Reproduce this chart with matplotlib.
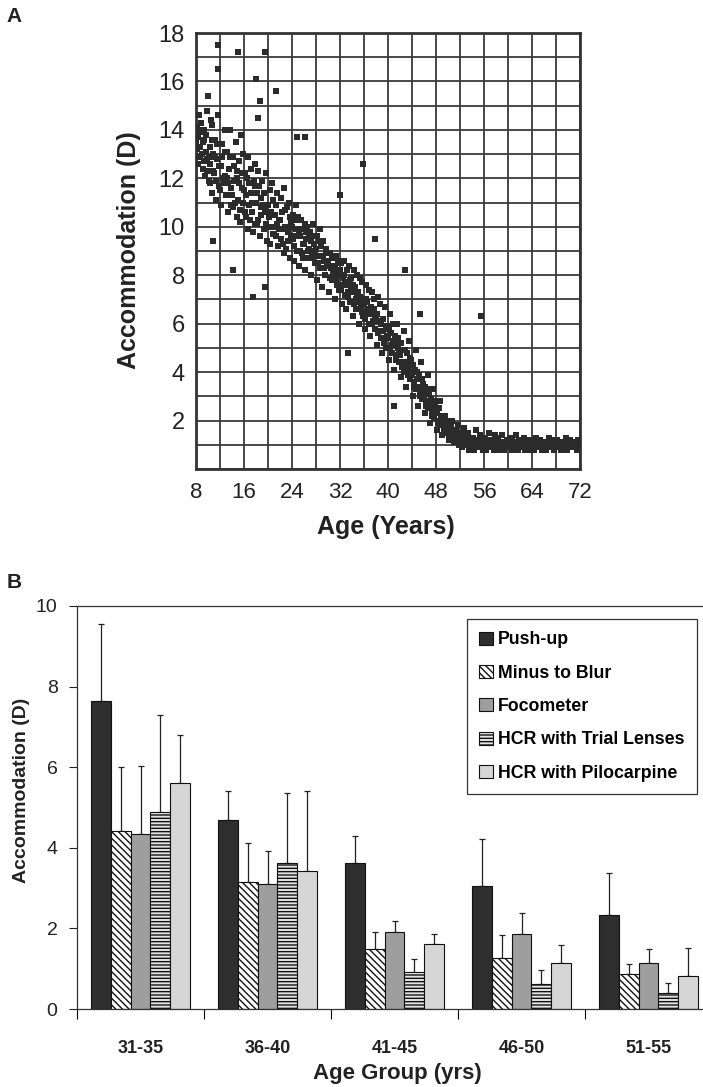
import numpy as np
import matplotlib
matplotlib.use('Agg')
import matplotlib.pyplot as plt

plt.rcParams['font.family'] = ['Liberation Sans', 'DejaVu Sans']
plt.rcParams['hatch.linewidth'] = 1.0
plt.rcParams['hatch.color'] = 'black'

scatter_age = [
    8.1, 8.2, 8.3, 8.4, 8.6, 8.8, 8.5, 8.7,
    9.1, 9.2, 9.4, 9.5, 9.7, 9.8, 9.9, 9.3,
    10.1, 10.3, 10.4, 10.6, 10.7, 10.9, 10.5, 10.0, 10.8,
    11.0, 11.2, 11.3, 11.6, 11.5, 11.7, 11.8, 11.6,
    12.1, 12.2, 12.4, 12.6, 12.8, 12.9,
    13.0, 13.2, 13.3, 13.5, 13.7, 13.9,
    14.1, 14.2, 14.4, 15.0, 14.6, 14.8, 14.9, 14.1,
    15.0, 15.2, 15.4, 15.5, 15.7, 15.9,
    16.1, 16.2, 16.4, 16.6, 16.7, 16.9,
    17.0, 17.2, 17.3, 17.5, 18.0, 17.8, 17.9, 17.5,
    18.1, 18.2, 18.4, 18.6, 18.8, 18.9, 18.6, 18.3,
    19.0, 19.5, 19.3, 19.5, 19.6, 19.8, 19.5,
    20.1, 20.3, 20.4, 20.6, 20.8, 20.9,
    21.0, 21.4, 21.3, 21.5, 21.6, 21.8,
    22.1, 22.2, 22.4, 22.6, 22.7, 22.9,
    23.0, 23.2, 23.4, 23.5, 23.7, 23.9,
    24.1, 24.2, 24.4, 24.6, 24.7, 24.9, 24.8,
    25.0, 25.2, 25.3, 25.5, 25.7, 25.8,
    26.1, 26.2, 26.4, 26.5, 26.7, 26.9, 26.2,
    27.0, 27.2, 27.3, 27.5, 27.7, 27.8,
    28.1, 28.2, 28.4, 28.6, 28.7, 28.9,
    29.0, 29.2, 29.3, 29.5, 29.7, 29.8,
    30.1, 30.2, 30.4, 30.6, 30.7, 30.9,
    31.0, 31.2, 31.4, 31.5, 31.7, 31.9,
    32.1, 32.2, 32.4, 32.6, 32.7, 32.9, 32.0,
    33.0, 33.2, 33.3, 33.5, 33.7, 33.8, 33.4,
    34.1, 34.2, 34.4, 34.6, 34.7, 34.9,
    35.0, 35.2, 35.4, 35.5, 35.7, 35.9, 35.9,
    36.1, 36.3, 36.4, 36.6, 36.8, 36.9,
    37.0, 37.2, 37.3, 37.5, 37.7, 37.8, 37.9,
    38.1, 38.2, 38.4, 38.6, 38.7, 38.9,
    39.0, 39.2, 39.4, 39.5, 39.7, 39.9,
    40.1, 40.2, 40.4, 40.6, 40.7, 40.9,
    41.0, 41.2, 41.3, 41.5, 41.7, 41.8, 41.0,
    42.1, 42.2, 42.4, 42.6, 42.7, 42.9, 42.9,
    43.0, 43.2, 43.4, 43.5, 43.7, 43.9,
    44.1, 44.2, 44.4, 44.6, 44.7, 44.9,
    45.0, 45.2, 45.3, 45.5, 45.7, 45.8, 45.4,
    46.1, 46.2, 46.4, 46.6, 46.7, 46.9,
    47.0, 47.2, 47.4, 47.5, 47.7, 47.8,
    48.1, 48.2, 48.4, 48.6, 48.7, 48.9,
    49.0, 49.2, 49.4, 49.5, 49.7, 49.9,
    50.1, 50.3, 50.4, 50.6, 50.8, 50.9,
    51.0, 51.3, 51.5, 51.7, 51.9,
    52.1, 52.4, 52.6, 52.8,
    53.0, 53.3, 53.5, 53.8,
    54.1, 54.3, 54.6, 54.8,
    55.0, 55.3, 55.6, 55.8, 55.5,
    56.1, 56.4, 56.6, 56.9,
    57.2, 57.4, 57.7, 57.9,
    58.1, 58.3, 58.6, 58.8,
    59.0, 59.3, 59.6, 59.8,
    60.1, 60.4, 60.6, 60.9,
    61.2, 61.4, 61.7, 61.9,
    62.0, 62.3, 62.6, 62.8,
    63.1, 63.4, 63.6, 63.9,
    64.2, 64.4, 64.7, 64.9,
    65.1, 65.3, 65.6, 65.8,
    66.0, 66.3, 66.6, 66.9,
    67.1, 67.4, 67.7, 67.9,
    68.2, 68.4, 68.7, 68.9,
    69.0, 69.3, 69.6, 69.8,
    70.1, 70.4, 70.6, 70.9,
    71.1, 71.4, 71.7,
]
scatter_acc = [
    13.2, 14.1, 12.6, 13.7, 12.9, 14.3, 14.6, 13.9,
    12.4, 13.5, 14.0, 12.1, 13.1, 14.8, 12.8, 13.6,
    11.9, 13.3, 12.6, 14.2, 11.4, 13.0, 14.4, 15.4, 9.4,
    12.2, 13.6, 11.1, 17.5, 12.8, 14.6, 11.7, 16.5,
    12.5, 10.9, 13.4, 11.8, 14.0, 12.1,
    11.3, 13.1, 10.6, 12.4, 14.0, 11.6,
    12.9, 10.8, 11.9, 17.2, 13.5, 10.4, 12.3, 8.2,
    11.1, 12.7, 10.2, 13.8, 11.6, 13.0,
    10.6, 12.2, 11.3, 9.9, 12.9, 11.8,
    10.3, 12.4, 11.0, 9.8, 16.1, 11.7, 12.6, 7.1,
    10.1, 11.4, 12.3, 9.6, 10.8, 11.2, 15.2, 14.5,
    11.9, 17.2, 9.9, 10.7, 12.2, 9.4, 7.5,
    10.4, 11.5, 9.3, 11.8, 10.0, 11.1,
    9.7, 15.6, 10.9, 11.4, 9.2, 10.3,
    11.2, 9.5, 10.6, 8.9, 11.6, 10.0,
    9.1, 10.8, 9.8, 11.0, 8.7, 10.2,
    9.5, 10.5, 8.6, 9.9, 10.9, 9.0, 13.7,
    10.4, 8.4, 9.6, 10.3, 8.9, 9.3,
    10.1, 8.2, 9.5, 10.0, 8.7, 9.1, 13.7,
    9.8, 8.0, 8.9, 10.1, 9.3, 8.5,
    9.6, 7.8, 8.8, 9.9, 8.3, 9.2,
    7.5, 9.4, 8.6, 8.0, 9.1, 8.9,
    7.3, 8.4, 8.9, 7.8, 8.7, 8.2,
    8.2, 7.0, 8.8, 7.6, 8.6, 8.0,
    7.4, 8.5, 6.8, 8.0, 8.6, 7.7, 11.3,
    6.6, 8.2, 7.3, 8.4, 6.9, 7.9, 4.8,
    6.3, 7.6, 8.2, 7.0, 6.6, 8.0,
    7.3, 6.0, 7.9, 6.7, 7.7, 6.3, 12.6,
    5.8, 7.0, 7.6, 6.4, 7.4, 6.0,
    5.5, 6.7, 7.3, 6.1, 7.0, 5.8, 9.5,
    5.1, 6.4, 7.1, 5.7, 6.8, 6.0,
    4.8, 6.2, 5.4, 6.7, 5.0, 5.9,
    4.5, 5.8, 6.4, 5.1, 4.8, 6.0,
    4.1, 5.5, 4.7, 6.0, 5.0, 4.4, 2.6,
    3.8, 5.2, 4.4, 5.7, 4.0, 4.9, 8.2,
    3.4, 4.8, 4.1, 5.3, 3.7, 4.5,
    3.0, 4.3, 3.6, 4.9, 3.3, 4.0,
    2.6, 3.9, 3.2, 4.4, 2.9, 3.5, 6.4,
    2.3, 3.4, 2.8, 3.9, 2.5, 3.1,
    1.9, 2.9, 2.4, 3.3, 2.1, 2.6,
    1.6, 2.4, 2.0, 2.8, 1.8, 2.2,
    1.4, 2.1, 1.7, 2.2, 1.5, 1.9,
    1.2, 1.8, 1.5, 2.0, 1.3, 1.6,
    1.1, 1.6, 1.3, 1.8, 1.0,
    1.4, 0.9, 1.7, 1.2,
    1.0, 1.5, 0.8, 1.3,
    1.2, 0.8, 1.6, 1.0,
    0.9, 1.4, 1.1, 0.8, 6.3,
    1.3, 0.8, 1.0, 1.5,
    0.9, 1.2, 0.8, 1.4,
    1.0, 1.3, 0.8, 1.1,
    1.4, 0.8, 1.0, 1.2,
    0.9, 1.3, 0.8, 1.1,
    1.0, 1.4, 0.8, 1.2,
    0.9, 1.1, 1.3, 0.8,
    1.0, 0.8, 1.2, 0.9,
    1.1, 0.8, 1.3, 1.0,
    0.9, 1.2, 0.8, 1.0,
    1.1, 0.8, 1.0, 1.3,
    0.9, 1.1, 0.8, 1.0,
    1.2, 0.9, 1.0, 0.8,
    1.1, 0.9, 1.3, 0.8,
    1.0, 1.2, 0.9, 1.1,
    0.9, 1.0, 1.2,
]
# second pass over the dense core of the cloud
core_age = [
    8.05, 8.45, 8.65, 8.95, 9.05, 9.35, 9.6, 9.85,
    10.15, 10.35, 10.65, 10.85, 11.1, 11.35, 11.55, 11.9,
    12.0, 12.3, 12.55, 12.75, 13.1, 13.4, 13.6, 13.8,
    14.0, 14.3, 14.55, 14.75, 15.1, 15.3, 15.6, 15.8,
    16.0, 16.3, 16.5, 16.8, 17.1, 17.4, 17.6, 17.85,
    18.0, 18.3, 18.5, 18.75, 19.1, 19.4, 19.65, 19.9,
    20.0, 20.25, 20.5, 20.75, 21.1, 21.35, 21.55, 21.9,
    22.0, 22.3, 22.5, 22.8, 23.1, 23.3, 23.6, 23.8,
    24.0, 24.3, 24.5, 24.8, 25.1, 25.4, 25.6, 25.9,
    26.0, 26.3, 26.6, 26.8, 27.1, 27.4, 27.6, 27.9,
    28.0, 28.3, 28.5, 28.8, 29.1, 29.4, 29.6, 29.9,
    30.0, 30.3, 30.5, 30.8, 31.1, 31.3, 31.6, 31.8,
    32.0, 32.3, 32.5, 32.8, 33.1, 33.4, 33.6, 33.9,
    34.0, 34.3, 34.5, 34.8, 35.1, 35.3, 35.6, 35.8,
    36.0, 36.2, 36.5, 36.7, 37.1, 37.4, 37.6, 37.9,
    38.0, 38.3, 38.5, 38.8, 39.1, 39.3, 39.6, 39.8,
    40.0, 40.3, 40.5, 40.8, 41.1, 41.4, 41.6, 41.9,
    42.0, 42.3, 42.5, 42.8, 43.1, 43.3, 43.6, 43.8,
    44.0, 44.3, 44.5, 44.8, 45.1, 45.4, 45.6, 45.9,
    46.0, 46.3, 46.5, 46.8, 47.1, 47.3, 47.6, 47.9,
    48.0, 48.3, 48.5, 48.8, 49.1, 49.3, 49.6, 49.8,
    50.0, 50.2, 50.5, 50.7, 51.1, 51.4, 51.6, 51.8,
    52.0, 52.3, 52.5, 52.7, 52.9, 53.1, 53.4, 53.6, 53.9,
    54.0, 54.2, 54.5, 54.9, 55.1, 55.4, 55.7, 55.9,
    56.2, 56.8, 57.1, 57.6, 58.2, 58.7, 59.2, 59.5,
    60.2, 60.7, 61.1, 61.6, 62.2, 62.7, 63.2, 63.7,
    64.1, 64.6, 65.2, 65.7, 66.2, 66.7, 67.2, 67.6,
    68.1, 68.6, 69.2, 69.7, 70.2, 70.7, 71.2, 71.5, 71.8,
]
core_acc = [
    13.5, 12.9, 13.3, 14.0, 13.0, 12.7, 13.8, 12.3,
    12.9, 11.8, 13.6, 12.3, 12.9, 11.9, 13.4, 12.5,
    11.5, 12.9, 12.0, 13.1, 12.0, 11.8, 12.9, 10.9,
    11.3, 12.5, 11.0, 12.0, 11.8, 10.7, 12.2, 11.0,
    11.5, 10.4, 12.0, 10.9, 11.4, 10.6, 11.9, 10.1,
    11.0, 10.3, 11.7, 10.5, 10.9, 11.4, 10.1, 10.6,
    10.9, 10.0, 10.6, 9.7, 10.5, 9.6, 10.1, 9.9,
    10.3, 9.9, 9.3, 10.7, 10.0, 9.4, 10.4, 9.6,
    10.0, 9.2, 10.3, 9.6, 9.8, 9.0, 9.9, 8.7,
    9.3, 9.8, 9.0, 9.6, 9.4, 8.7, 9.6, 9.0,
    9.1, 8.5, 9.4, 8.8, 8.8, 8.3, 9.0, 8.5,
    8.6, 7.9, 8.3, 8.0, 8.4, 7.8, 8.1, 7.4,
    8.2, 7.6, 7.9, 7.2, 7.6, 7.1, 7.8, 7.4,
    7.3, 6.8, 7.5, 7.2, 6.9, 7.1, 6.5, 7.0,
    6.8, 6.2, 6.9, 6.6, 6.4, 6.0, 6.6, 6.2,
    6.2, 5.6, 6.1, 5.4, 5.7, 5.2, 5.8, 5.5,
    5.4, 5.0, 5.6, 5.3, 5.2, 4.5, 5.4, 4.8,
    4.7, 4.2, 4.9, 4.4, 4.3, 3.9, 4.6, 4.0,
    3.9, 3.4, 4.1, 3.7, 3.4, 3.0, 3.7, 3.2,
    3.0, 2.6, 3.3, 2.8, 2.6, 2.2, 2.8, 2.3,
    2.3, 1.9, 2.5, 2.0, 1.9, 1.6, 2.0, 1.7,
    1.7, 1.4, 1.8, 1.5, 1.4, 1.2, 1.5, 1.3,
    1.2, 1.5, 1.1, 1.3, 1.0, 1.2, 1.0, 1.3, 1.1,
    1.0, 1.3, 1.1, 1.2, 1.2, 1.0, 1.3, 1.0,
    1.1, 1.2, 1.1, 1.0, 1.2, 0.9, 1.1, 0.9,
    1.0, 1.2, 1.1, 0.9, 1.0, 1.2, 1.1, 1.0,
    0.9, 1.1, 1.1, 0.9, 1.0, 1.1, 1.2, 1.0,
    1.0, 1.1, 1.0, 1.1, 0.9, 1.0, 1.1, 0.8, 1.0,
]

# ---- panel B: mean accommodation by age group and method, with +1 SD ----
age_groups = ['31-35', '36-40', '41-45', '46-50', '51-55']
methods = ['Push-up', 'Minus to Blur', 'Focometer',
           'HCR with Trial Lenses', 'HCR with Pilocarpine']
push_up = [7.64, 4.69, 3.63, 3.06, 2.33]
minus_blur = [4.42, 3.14, 1.48, 1.26, 0.86]
focometer = [4.35, 3.10, 1.92, 1.85, 1.15]
hcr_trial = [4.90, 3.62, 0.93, 0.63, 0.40]
hcr_pilo = [5.60, 3.43, 1.61, 1.13, 0.82]
push_up_sd = [1.91, 0.71, 0.67, 1.16, 1.04]
minus_blur_sd = [1.58, 0.98, 0.44, 0.58, 0.25]
focometer_sd = [1.67, 0.82, 0.26, 0.54, 0.34]
hcr_trial_sd = [2.39, 1.75, 0.32, 0.34, 0.24]
hcr_pilo_sd = [1.19, 1.99, 0.24, 0.46, 0.69]

W, H = 703, 1087
fig = plt.figure(figsize=(W / 100, H / 100), dpi=100)

# panel A
axA = fig.add_axes([196 / W, 1 - 469 / H, 384 / W, 436 / H])
axA.set_axisbelow(True)
axA.scatter(scatter_age + core_age, scatter_acc + core_acc, s=15, marker='s',
            color='#2b2b2b', linewidths=0, zorder=3)
axA.set_xlim(8, 72)
axA.set_ylim(0, 18)
axA.set_xticks(range(8, 73, 8))
axA.set_xticks(range(8, 73, 4), minor=True)
axA.set_yticks(range(2, 19, 2))
axA.set_yticks(range(0, 19), minor=True)
axA.grid(which='both', color='#3a3a3a', lw=1.3)
axA.tick_params(which='both', length=0, labelsize=16, colors='#222222')
axA.tick_params(axis='x', pad=9)
axA.tick_params(axis='y', pad=8, labelsize=17)
for s in axA.spines.values():
    s.set_linewidth(2)
    s.set_color('#333333')

fig.text(129 / W, 1 - 250 / H, 'Accommodation (D)', rotation=90, ha='center',
         va='center', fontsize=18, fontweight='bold', color='#222222')
fig.text(386 / W, 1 - 527 / H, 'Age (Years)', ha='center', va='center',
         fontsize=18, fontweight='bold', color='#222222')
fig.text(14 / W, 1 - 16 / H, 'A', ha='center', va='center', fontsize=15,
         fontweight='bold', color='#222222')

# panel B
axB = fig.add_axes([77 / W, 1 - 1009 / H, 635 / W, 403 / H])
bw = 0.155
x = np.arange(len(age_groups)) + 0.5
series = [
    (push_up, push_up_sd, dict(color='#2e2e2e')),
    (minus_blur, minus_blur_sd, dict(color='white', hatch='\\\\\\\\\\')),
    (focometer, focometer_sd, dict(color='#9e9e9e')),
    (hcr_trial, hcr_trial_sd, dict(color='#e4e4e4', hatch='-----')),
    (hcr_pilo, hcr_pilo_sd, dict(color='#d6d6d6')),
]
for i, (vals, sd, style) in enumerate(series):
    pos = x + (i - 2) * bw
    axB.bar(pos, vals, bw, edgecolor='#111111', linewidth=0.8,
            label=methods[i], zorder=2, **style)
    axB.errorbar(pos, vals, yerr=[np.zeros(len(vals)), sd], fmt='none',
                 ecolor='#222222', elinewidth=0.9, capsize=2.2, capthick=0.9,
                 zorder=1)

axB.set_xlim(0, 5)
axB.set_ylim(0, 10)
axB.set_xticks(x)
axB.set_xticklabels(age_groups, fontsize=13, fontweight='bold', color='#222222')
axB.set_xticks(range(0, 6), minor=True)
axB.tick_params(axis='x', which='major', length=0, pad=22)
axB.tick_params(axis='x', which='minor', length=7, direction='out', width=0.8)
axB.set_yticks(range(0, 11, 2))
axB.tick_params(axis='y', length=6, direction='out', width=0.8, labelsize=14,
                pad=8, colors='#222222')
axB.spines['right'].set_visible(False)
for side in ['left', 'bottom', 'top']:
    axB.spines[side].set_linewidth(0.9)
    axB.spines[side].set_color('#333333')

leg = axB.legend(loc='upper left', bbox_to_anchor=(0.614, 0.968),
                 borderaxespad=0, prop={'weight': 'bold', 'size': 12.8},
                 handlelength=0.75, handleheight=0.75, handletextpad=0.3,
                 labelspacing=0.92, borderpad=0.7, fancybox=False,
                 framealpha=1)
leg.get_frame().set_edgecolor('#333333')
leg.get_frame().set_linewidth(0.9)

fig.text(22 / W, 1 - 790 / H, 'Accommodation (D)', rotation=90, ha='center',
         va='center', fontsize=14, fontweight='bold', color='#222222')
fig.text(397 / W, 1 - 1073 / H, 'Age Group (yrs)', ha='center', va='center',
         fontsize=16, fontweight='bold', color='#222222')
fig.text(14 / W, 1 - 582 / H, 'B', ha='center', va='center', fontsize=15,
         fontweight='bold', color='#222222')

fig.savefig('out.png', dpi=100)
